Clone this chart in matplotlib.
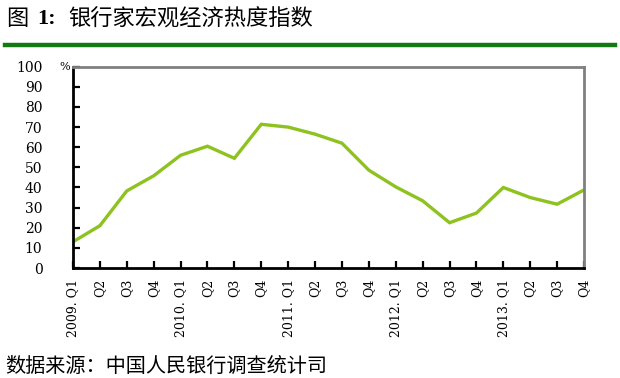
import matplotlib.pyplot as plt
import numpy as np

plt.rcParams['font.family'] = ['Noto Sans CJK SC', 'DejaVu Sans']

quarters = ['2009. Q1', 'Q2', 'Q3', 'Q4',
            '2010. Q1', 'Q2', 'Q3', 'Q4',
            '2011. Q1', 'Q2', 'Q3', 'Q4',
            '2012. Q1', 'Q2', 'Q3', 'Q4',
            '2013. Q1', 'Q2', 'Q3', 'Q4']
heat_index = [13, 21, 38.3, 45.8, 56, 60.5, 54.5, 71.4, 70, 66.5, 62, 48.6,
              40.3, 33.4, 22.5, 27.3, 40, 35, 31.7, 38.8]
y_ticks = list(range(0, 101, 10))

fig = plt.figure(figsize=(6.2, 3.78), dpi=100)

# title and green rule
fig.text(0.010, 0.950, '图', fontsize=16, va='center', ha='left')
fig.text(0.060, 0.950, '1:', fontsize=16, va='center', ha='left',
         family='Liberation Serif', weight='bold')
fig.text(0.110, 0.950, '银行家宏观经济热度指数', fontsize=16, va='center', ha='left')
fig.add_artist(plt.Line2D([0.008, 0.992], [0.881, 0.881], color='#137a13',
                          linewidth=3.2, transform=fig.transFigure))

ax = fig.add_axes([0.1177, 0.291, 0.8243, 0.5325])
x = np.arange(len(quarters))
ax.plot(x, heat_index, color='#8dc21f', linewidth=2.4, solid_joinstyle='miter')

ax.set_xlim(0, len(quarters) - 1)
ax.set_ylim(0, 100)
ax.set_xticks(x)
ax.set_xticklabels(quarters, rotation=90, family='DejaVu Serif', fontsize=9)
ax.set_yticks(y_ticks)
ax.set_yticklabels([str(v) for v in y_ticks], family='DejaVu Serif', fontsize=10)
ax.tick_params(axis='both', direction='in', length=5, width=1.6, color='black')
ax.tick_params(axis='x', pad=8)
ax.tick_params(axis='y', pad=22)

for side in ['left', 'bottom']:
    ax.spines[side].set_color('black')
    ax.spines[side].set_linewidth(2)
for side in ['top', 'right']:
    ax.spines[side].set_color('#808080')
    ax.spines[side].set_linewidth(2)

ax.text(-0.006, 1.0, '%', transform=ax.transAxes, fontsize=8,
        ha='right', va='center', family='DejaVu Serif')

fig.text(0.008, 0.032, '数据来源：中国人民银行调查统计司', fontsize=14.5,
         va='center', ha='left')

fig.savefig('out.png', dpi=100)
